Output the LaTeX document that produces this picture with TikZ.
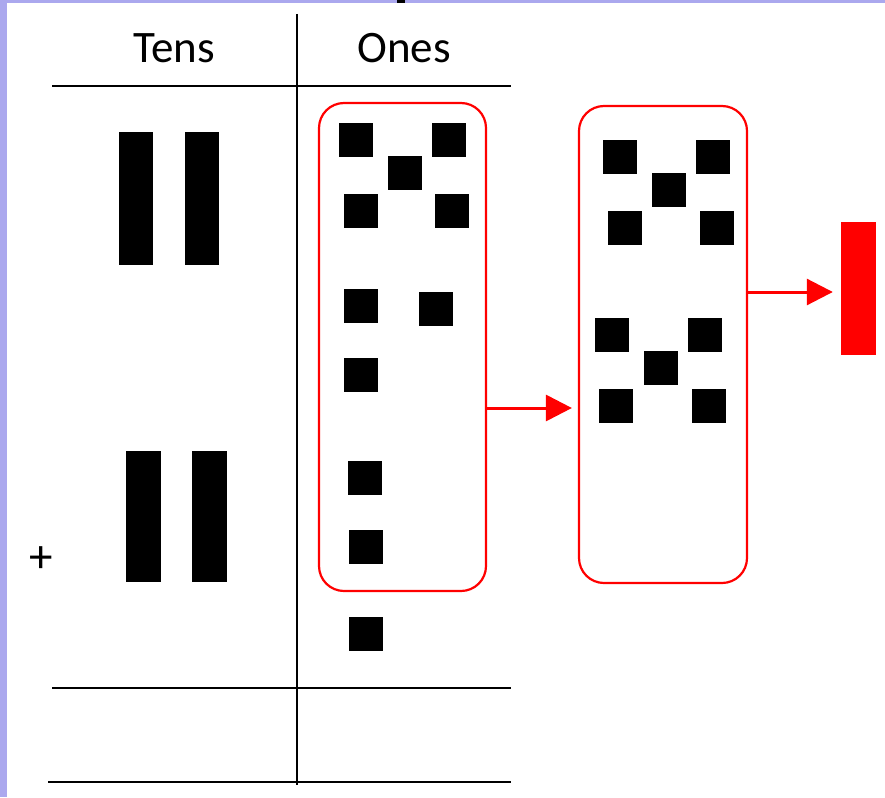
\documentclass[tikz,border=0pt]{standalone}
\usepackage{fontspec}
\setmainfont{Carlito}
\usepackage{tikz}
\usetikzlibrary{arrows.meta, positioning}
\definecolor{slidebg}{HTML}{ABA8EE}
\definecolor{regroupred}{HTML}{FF0000}
\tikzset{
  % Place-value blocks
  unitsq/.style={
    rectangle, fill=black, inner sep=0pt,
    minimum width=34pt, minimum height=34pt,
  },
  tenrod/.style={
    rectangle, fill=#1, inner sep=0pt,
    minimum width=34pt, minimum height=133pt,
  },
  tenrod/.default={black},
  % Regroup frames
  groupbox/.style={
    rectangle, rounded corners=25pt, draw=regroupred,
    line width=2.2pt, inner sep=0pt,
  },
  % Arrows
  myarrow/.style={-{Triangle[length=26pt, width=26pt]}, line width=3pt, regroupred},
  % Table
  tableline/.style={line width=1.8pt, black},
  headtext/.style={font=\fontsize{45}{54}\selectfont, anchor=base},
}

\begin{document}
\begin{tikzpicture}[x=1pt, y=-1pt]

  % Slide background
  \useasboundingbox (0,0) rectangle (885,797);
  \fill[slidebg] (0,0) rectangle (885,797);
  \fill[white] (7,3) rectangle (885,797);
  \fill[black] (397,0) rectangle (405,3);

  % Table
  \draw[tableline] (297,14) -- (297,785);
  \draw[tableline] (52,86) -- (511,86);
  \draw[tableline] (52,688) -- (511,688);
  \draw[tableline] (48,782) -- (511,782);
  \node[headtext] (tens) at (174,63) {Tens};
  \node[headtext] (ones) at (404,63) {Ones};

  % Tens column
  \node[tenrod] (tenA) at (136,198.5) {};
  \node[tenrod, right=32pt of tenA] (tenB) {};
  \node[tenrod, minimum width=35pt, minimum height=131pt] (tenC) at (143,516.5) {};
  \node[tenrod, minimum width=35pt, minimum height=131pt, right=31pt of tenC] (tenD) {};
  \node[font=\fontsize{47}{50}\selectfont, inner sep=0pt] (plus) at (41,560) {+};

  % Ones column --- first group of ten
  \node[groupbox, minimum width=167pt, minimum height=488pt] (onesbox) at (402.5,347) {};
  \node[unitsq] (o1) at (356,140) {};
  \node[unitsq] (o2) at (449,140) {};
  \node[unitsq] (o3) at (405,173) {};
  \node[unitsq] (o4) at (361,211) {};
  \node[unitsq] (o5) at (452,211) {};
  \node[unitsq] (o6) at (361,306) {};
  \node[unitsq] (o7) at (436,309) {};
  \node[unitsq] (o8) at (361,375) {};
  \node[unitsq] (o9) at (365,478) {};
  \node[unitsq] (o10) at (366,547) {};
  \node[unitsq] (o11) at (366,634) {};

  % Regrouped ten
  \node[groupbox, minimum width=168pt, minimum height=477pt] (regroup) at (663,344.5) {};
  \node[unitsq] (r1) at (620,157) {};
  \node[unitsq] (r2) at (713,157) {};
  \node[unitsq] (r3) at (669,190) {};
  \node[unitsq] (r4) at (625,228) {};
  \node[unitsq] (r5) at (717,228) {};
  \node[unitsq] (r6) at (612,335) {};
  \node[unitsq] (r7) at (705,335) {};
  \node[unitsq] (r8) at (661,368) {};
  \node[unitsq] (r9) at (616,406) {};
  \node[unitsq] (r10) at (709,406) {};

  % New ten
  \node[tenrod=regroupred, minimum width=35pt] (newten) at (858.5,288.5) {};

  % Arrows
  \draw[myarrow, shorten >=6pt] ([yshift=-61pt]onesbox.east) -- ([yshift=-63.5pt]regroup.west);
  \draw[myarrow, shorten >=8pt] ([yshift=52.5pt]regroup.east) -- ([yshift=-3.5pt]newten.west);

\end{tikzpicture}
\end{document}
